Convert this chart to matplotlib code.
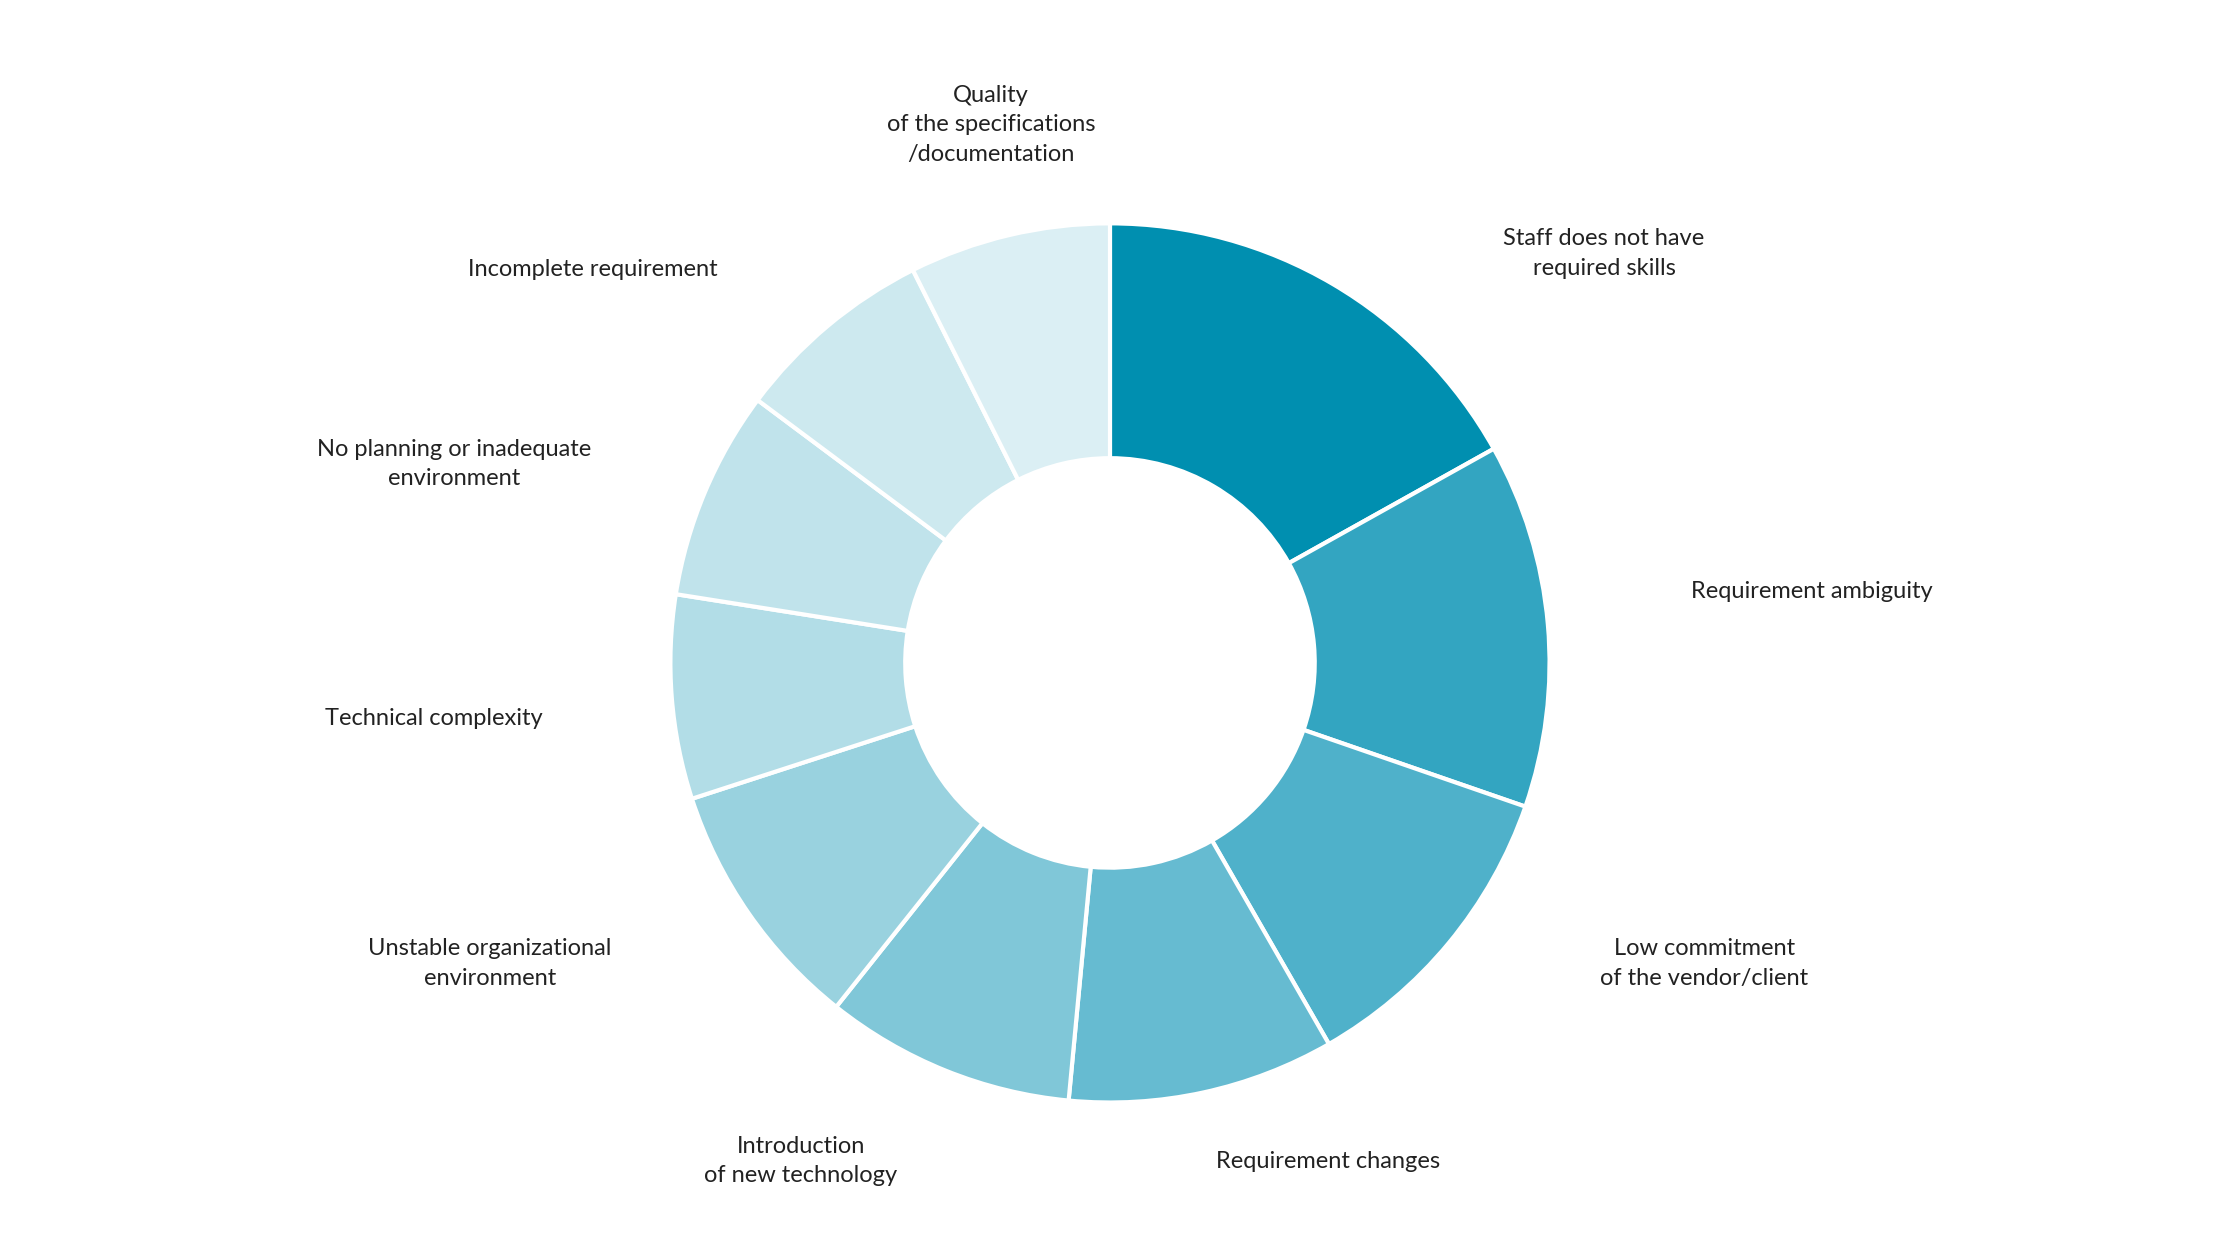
import matplotlib
matplotlib.use("Agg")
import matplotlib.pyplot as plt

labels = ["Staff does not have\nrequired skills", "Requirement ambiguity",
          "Low commitment\nof the vendor/client", "Requirement changes",
          "Introduction\nof new technology", "Unstable organizational\nenvironment",
          "Technical complexity", "No planning or inadequate\nenvironment",
          "Incomplete requirement", "Quality\nof the specifications\n/documentation"]
values = [16.9, 13.4, 11.4, 9.8, 9.2, 9.3, 7.5, 7.7, 7.4, 7.4]
colors = ["#008fb0", "#33a5c1", "#4fb1ca", "#66bbd1", "#80c7d8", "#99d2df",
          "#b2dde7", "#c0e3eb", "#cde9ef", "#dbeff4"]
# label centre positions in reference-pixel coordinates (layout)
label_pos = [(1118, 177), (1263, 413), (1188, 673), (925, 811), (557, 811),
             (340, 673), (301, 502), (315, 324), (412, 188), (690, 87)]

W, H = 1560, 880
fig = plt.figure(figsize=(22.4, 12.6), dpi=100)
ax = fig.add_axes([0, 0, 1, 1])
ax.set_xlim(0, W)
ax.set_ylim(0, H)
ax.axis("off")
ax.pie(values, colors=colors, startangle=90, counterclock=False,
       center=(773, H - 463), radius=307, frame=True,
       wedgeprops=dict(width=164, edgecolor="white", linewidth=3))
ax.set_xlim(0, W)
ax.set_ylim(0, H)
ax.set_aspect("equal")
ax.axis("off")
for lab, (x, y) in zip(labels, label_pos):
    ax.text(x, H - y, lab, ha="center", va="center", fontsize=17,
            family="Lato", color="#222222", linespacing=1.5)
fig.savefig("out.png", dpi=100, facecolor="white")
